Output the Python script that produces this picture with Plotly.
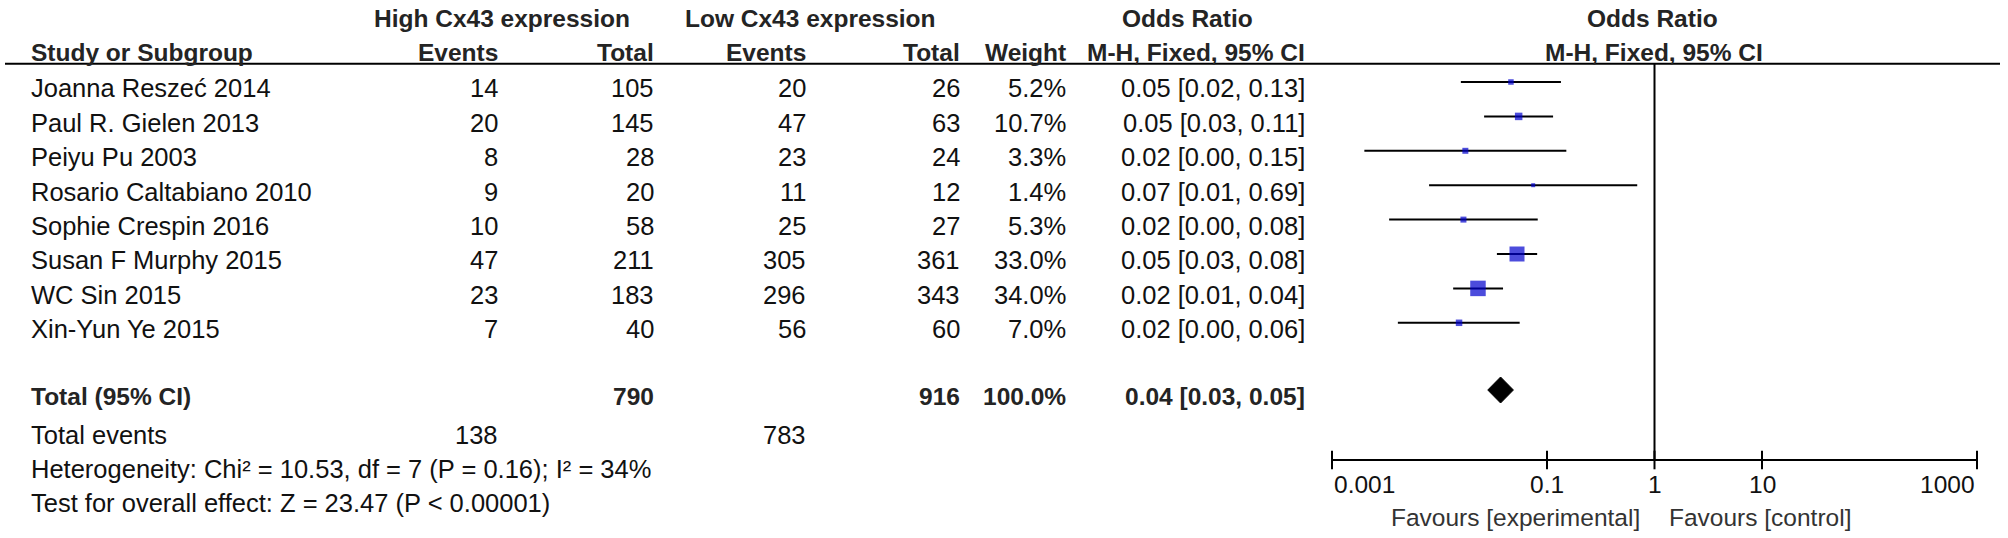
import math
import plotly.graph_objects as go

# ---------------- data ----------------
studies = ["Joanna Reszeć 2014", "Paul R. Gielen 2013", "Peiyu Pu 2003", "Rosario Caltabiano 2010",
           "Sophie Crespin 2016", "Susan F Murphy 2015", "WC Sin 2015", "Xin-Yun Ye 2015"]
high_events = [14, 20, 8, 9, 10, 47, 23, 7]
high_total = [105, 145, 28, 20, 58, 211, 183, 40]
low_events = [20, 47, 23, 11, 25, 305, 296, 56]
low_total = [26, 63, 24, 12, 27, 361, 343, 60]
weight_pct = [5.2, 10.7, 3.3, 1.4, 5.3, 33.0, 34.0, 7.0]
odds_ratio = [0.0462, 0.0545, 0.0174, 0.0744, 0.0167, 0.0526, 0.0228, 0.0152]
ci_low = [0.0158, 0.0260, 0.0020, 0.0080, 0.0034, 0.0342, 0.0134, 0.0041]
ci_high = [0.1348, 0.1139, 0.1513, 0.6908, 0.0820, 0.0810, 0.0390, 0.0557]
ci_labels = ["0.05 [0.02, 0.13]", "0.05 [0.03, 0.11]", "0.02 [0.00, 0.15]", "0.07 [0.01, 0.69]",
             "0.02 [0.00, 0.08]", "0.05 [0.03, 0.08]", "0.02 [0.01, 0.04]", "0.02 [0.00, 0.06]"]

total_high = 790
total_low = 916
total_weight = 100.0
total_or = 0.0370
total_lo = 0.0281
total_hi = 0.0487
total_label = "0.04 [0.03, 0.05]"
events_high = 138
events_low = 783
heterogeneity = "Heterogeneity: Chi² = 10.53, df = 7 (P = 0.16); I² = 34%"
overall = "Test for overall effect: Z = 23.47 (P &lt; 0.00001)"

tick_values = [0.001, 0.1, 1, 10, 1000]
tick_labels = ["0.001", "0.1", "1", "10", "1000"]
favours_left = "Favours [experimental]"
favours_right = "Favours [control]"

# ---------------- styling / layout constants ----------------
W, H = 2008, 538
ROW0 = 82.0
ROWH = 34.4
TXT_OFF = 6.3
BOX_PX = [5.5, 7.5, 6, 4, 6, 15, 15.5, 6.5]
FONT = "Liberation Sans, Arial, sans-serif"
FS = 25.5
FSB = 24.5
TXT = "#111111"
TXTB = "#242424"
X_AX0, X_DEC = 1332.0, 107.5
PAD = 0.1
AXIS_Y = 460.0
TOTAL_Y = 390.0

row_y = [ROW0 + ROWH * i for i in range(len(studies))]
text_y = [y + TXT_OFF for y in row_y]

fig = go.Figure()

# CI lines
xs, ys = [], []
for lo, hi, y in zip(ci_low, ci_high, row_y):
    xs += [lo, hi, None]
    ys += [y, y, None]
fig.add_trace(go.Scatter(x=xs, y=ys, mode="lines", line=dict(color="black", width=2),
                         hoverinfo="skip", showlegend=False, cliponaxis=False))

# squares
fig.add_trace(go.Scatter(x=odds_ratio, y=row_y, mode="markers",
                         marker=dict(symbol="square", size=BOX_PX, color="#0000cd", line=dict(width=0)),
                         showlegend=False, cliponaxis=False))

# diamond
dh = 13
fig.add_trace(go.Scatter(x=[total_lo, total_or, total_hi, total_or, total_lo],
                         y=[TOTAL_Y, TOTAL_Y - dh, TOTAL_Y, TOTAL_Y + dh, TOTAL_Y],
                         mode="lines", fill="toself", fillcolor="black",
                         line=dict(color="black", width=1), showlegend=False, hoverinfo="skip"))

# vertical no-effect line
fig.add_trace(go.Scatter(x=[1, 1], y=[63.7, AXIS_Y], mode="lines", line=dict(color="black", width=2),
                         showlegend=False, hoverinfo="skip", cliponaxis=False))

# axis line + ticks
ax_x = [tick_values[0], tick_values[-1], None]
ax_y = [AXIS_Y, AXIS_Y, None]
for t in tick_values:
    ax_x += [t, t, None]
    ax_y += [AXIS_Y - 9.3, AXIS_Y + 9.3, None]
fig.add_trace(go.Scatter(x=ax_x, y=ax_y, mode="lines", line=dict(color="black", width=2),
                         showlegend=False, hoverinfo="skip", cliponaxis=False))

ann = []


def txt(x, y, s, anchor="left", bold=False, size=None, color=None):
    ann.append(dict(x=x / W, y=y, xref="paper", yref="y", text=("<b>%s</b>" % s) if bold else s,
                    showarrow=False, xanchor=anchor, yanchor="middle",
                    font=dict(family=FONT, size=size or (FSB if bold else FS),
                              color=color or (TXTB if bold else TXT))))


# headers
txt(501.5, 18, "High Cx43 expression", "center", True)
txt(810, 18, "Low Cx43 expression", "center", True)
txt(1187.5, 18, "Odds Ratio", "center", True)
txt(1652, 18, "Odds Ratio", "center", True)
txt(29, 52, "Study or Subgroup", "left", True)
txt(500, 52, "Events", "right", True)
txt(656, 52, "Total", "right", True)
txt(808, 52, "Events", "right", True)
txt(962, 52, "Total", "right", True)
txt(1068, 52, "Weight", "right", True)
txt(1307, 52, "M-H, Fixed, 95% CI", "right", True)
txt(1653.5, 52, "M-H, Fixed, 95% CI", "center", True)

# study rows
for i, y in enumerate(text_y):
    txt(29, y, studies[i])
    txt(500, y, str(high_events[i]), "right")
    txt(656, y, str(high_total[i]), "right")
    txt(808, y, str(low_events[i]), "right")
    txt(962, y, str(low_total[i]), "right")
    txt(1068, y, "%.1f%%" % weight_pct[i], "right")
    txt(1307, y, ci_labels[i], "right")

# totals
ty = 396.5
txt(29, ty, "Total (95% CI)", "left", True)
txt(656, ty, str(total_high), "right", True)
txt(962, ty, str(total_low), "right", True)
txt(1068, ty, "%.1f%%" % total_weight, "right", True)
txt(1307, ty, total_label, "right", True)
txt(29, 435, "Total events")
txt(500, 435, str(events_high), "right")
txt(808, 435, str(events_low), "right")
txt(29, 468.5, heterogeneity)
txt(29, 503, overall)

# tick labels (through the log axis)
for i, (t, lab) in enumerate(zip(tick_values, tick_labels)):
    anchor = "left" if i == 0 else ("right" if i == len(tick_values) - 1 else "center")
    ann.append(dict(x=math.log10(t), y=484, xref="x", yref="y", text=lab, showarrow=False,
                    xanchor=anchor, yanchor="middle", font=dict(family=FONT, size=24.5, color=TXT)))

txt(1642, 517, favours_left, "right", size=24.5, color="#333333")
txt(1667, 517, favours_right, "left", size=24.5, color="#333333")

x_lo = X_AX0 - PAD * X_DEC
x_hi = X_AX0 + (6 + PAD) * X_DEC

fig.update_layout(
    width=W, height=H, margin=dict(l=0, r=0, t=0, b=0),
    paper_bgcolor="white", plot_bgcolor="white",
    xaxis=dict(type="log", range=[-3 - PAD, 3 + PAD], domain=[x_lo / W, x_hi / W], visible=False),
    yaxis=dict(range=[H, 0], domain=[0, 1], visible=False),
    annotations=ann,
    shapes=[dict(type="line", xref="paper", yref="y", x0=5 / W, x1=2000 / W, y0=63.7, y1=63.7,
                 line=dict(color="black", width=2))],
    showlegend=False,
)

fig.write_html("out.html", config={"displayModeBar": False},
               post_script="document.body.style.margin='0';document.body.style.padding='0';")
